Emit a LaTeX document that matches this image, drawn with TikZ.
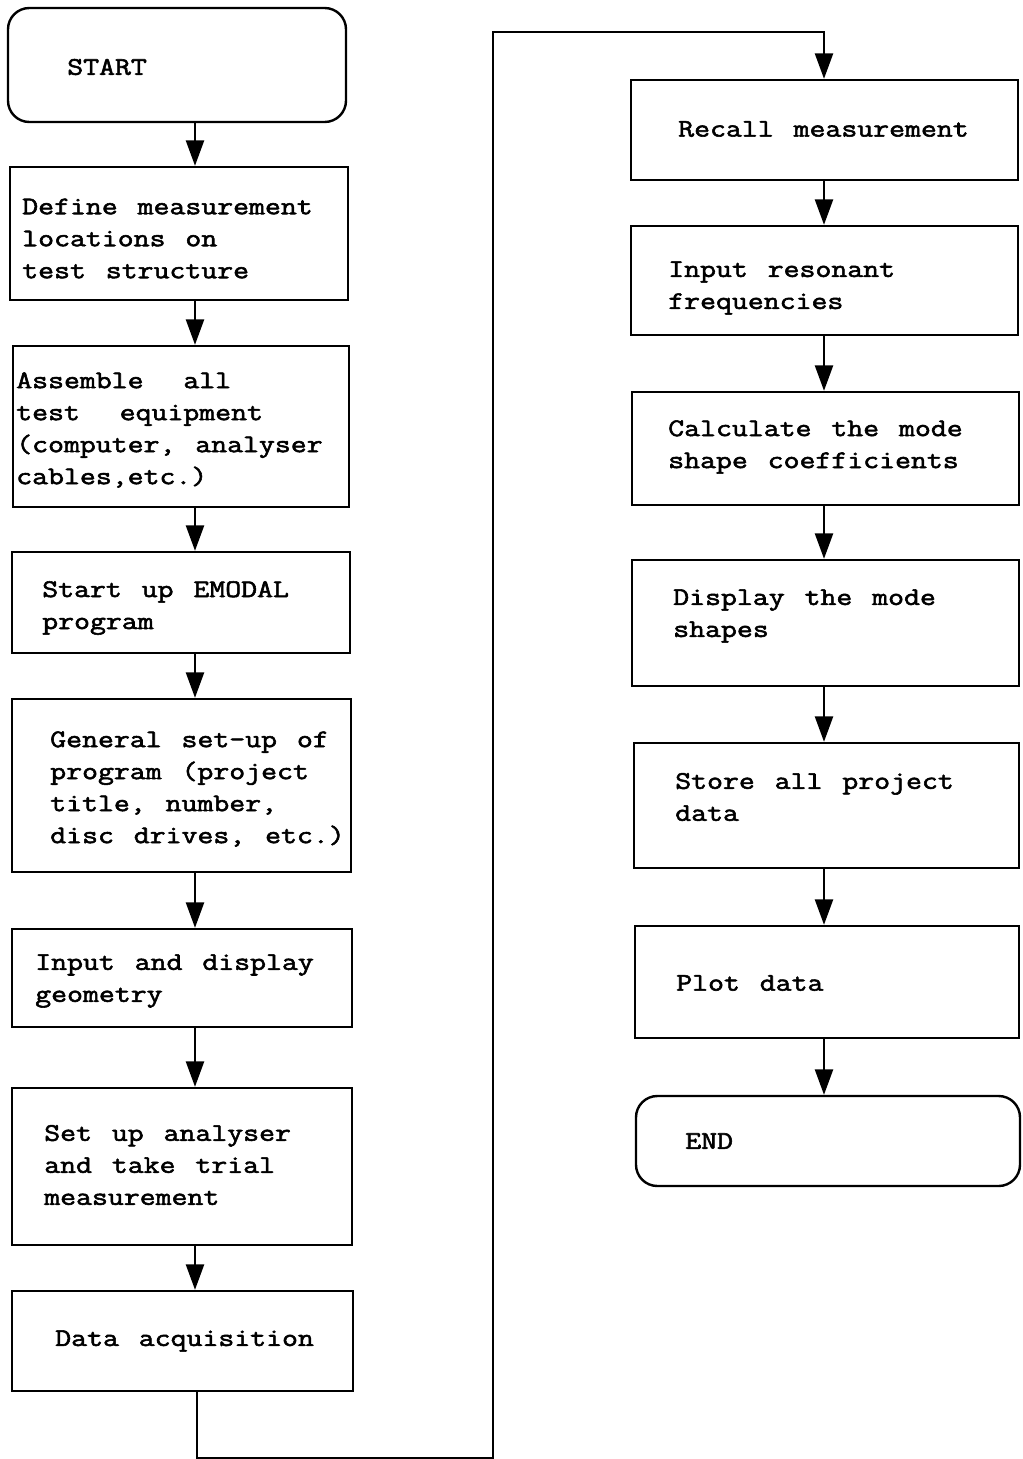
\documentclass[tikz,border=0pt]{standalone}
\usepackage{fontspec}
\setmainfont{Latin Modern Mono}[WordSpace=1.25, FakeStretch=1.22, FakeBold=2.2]
\usetikzlibrary{arrows.meta}
\begin{document}
\begin{tikzpicture}[x=0.75pt,y=-0.75pt,
  box/.style n args={4}{draw, line width=1.8pt, inner sep=0pt,
     minimum width={(#3-#1)*0.75pt}, minimum height={(#4-#2)*0.75pt},
     at={({(#1+#3)/2},{(#2+#4)/2})}},
  term/.style={rounded corners=16pt},
  txt/.style={anchor=west, align=left, inner sep=0pt, font=\fontsize{19}{24}\selectfont},
  arr/.style={line width=1.6pt, line join=miter, -{Triangle[length=19pt,width=13.5pt]}}]
\useasboundingbox (0,0) rectangle (1023,1459);
\coordinate (cl) at (195,0);
\coordinate (cr) at (824,0);
% left column
\node[box={8}{8}{346}{122}, term] (L1) {};
\node[box={10}{167}{348}{300}] (L2) {};
\node[box={13}{346}{349}{507}] (L3) {};
\node[box={12}{552}{350}{653}] (L4) {};
\node[box={12}{699}{351}{872}] (L5) {};
\node[box={12}{929}{352}{1027}] (L6) {};
\node[box={12}{1088}{352}{1245}] (L7) {};
\node[box={12}{1291}{353}{1391}] (L8) {};
% right column
\node[box={631}{80}{1018}{180}] (R1) {};
\node[box={631}{226}{1018}{335}] (R2) {};
\node[box={632}{392}{1019}{505}] (R3) {};
\node[box={632}{560}{1019}{686}] (R4) {};
\node[box={634}{743}{1019}{868}] (R5) {};
\node[box={635}{926}{1019}{1038}] (R6) {};
\node[box={636}{1096}{1020}{1186}, term] (R7) {};
% texts
\node[txt] (t1) at (67,67) {START};
\node[txt] (t2) at (22,238.5) {Define measurement\\locations on\\test structure};
\node[txt] (t3) at (16,430) {Assemble\ \ all\\test\ \ equipment\\(computer, analyser\\cables,etc.)};
\node[txt] (t4) at (42,608) {Start up EMODAL\\program};
\node[txt] (t5) at (50,789) {General set-up of\\program (project\\title, number,\\disc drives, etc.)};
\node[txt] (t6) at (35,981) {Input and display\\geometry};
\node[txt] (t7) at (44,1165) {Set up analyser\\and take trial\\measurement};
\node[txt] (t8) at (55,1341) {Data acquisition};
\node[txt] (s1) at (678,129) {Recall measurement};
\node[txt] (s2) at (668,288) {Input resonant\\frequencies};
\node[txt] (s3) at (668,447) {Calculate the mode\\shape coefficients};
\node[txt] (s4) at (673,616) {Display the mode\\shapes};
\node[txt] (s5) at (675,797) {Store all project\\data};
\node[txt] (s6) at (676,983) {Plot data};
\node[txt] (s7) at (685,1141) {END};
% connectors
\foreach \a/\b in {L1/L2,L2/L3,L3/L4,L4/L5,L5/L6,L6/L7,L7/L8}
  \draw[arr] (\a.south -| cl) -- (\b.north -| cl);
\foreach \a/\b in {R1/R2,R2/R3,R3/R4,R4/R5,R5/R6,R6/R7}
  \draw[arr] (\a.south -| cr) -- (\b.north -| cr);
\coordinate (p1) at (197,1458);
\coordinate (p2) at (493,1458);
\coordinate (p3) at (493,32);
\coordinate (p4) at (824,32);
\draw[arr] (L8.south -| p1) -- (p1) -- (p2) -- (p3) -- (p4) -- (R1.north -| p4);
\end{tikzpicture}
\end{document}
